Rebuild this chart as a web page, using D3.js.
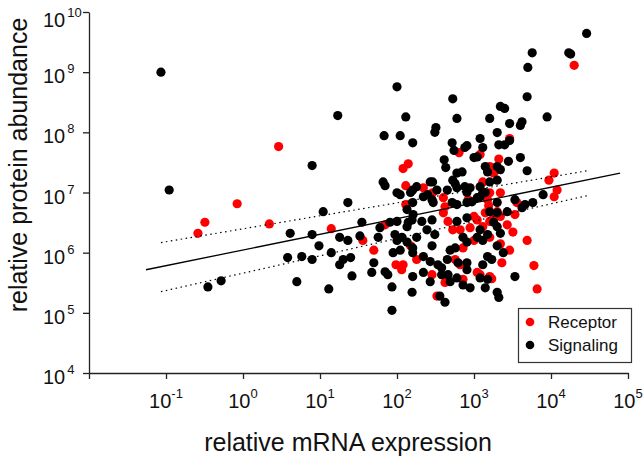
<!DOCTYPE html>
<html><head><meta charset="utf-8">
<script src="https://cdn.jsdelivr.net/npm/d3@7"></script>
<style>
body{margin:0;background:#fff}
svg{display:block}
text{font-family:"Liberation Sans",Arial,Helvetica,sans-serif;fill:#111}
</style>
</head><body>
<svg id="chart" width="643" height="458"></svg>
<script>
// ---- data ----
const xTicks = [1e-2, 1e-1, 1e0, 1e1, 1e2, 1e3, 1e4, 1e5];
const xTickExponents = ["", "-1", "0", "1", "2", "3", "4", "5"];
const yTicks = [1e4, 1e5, 1e6, 1e7, 1e8, 1e9, 1e10];
const yTickExponents = ["4", "5", "6", "7", "8", "9", "10"];
const seriesNames = ["Receptor", "Signaling"];
const seriesColors = ["#ff0000", "#000000"];

// [relative mRNA expression, relative protein abundance]
const receptor = [
[0.26,2.1e6],[0.32,3.2e6],[0.84,6.5e6],[2.2,3.0e6],[2.9,5.8e7],[14,2.5e6],[36,1.6e6],[50,1.1e6],[70,2.9e6],
[2.0e4,1.3e9],[2.9e3,7.9e7],[640,4.6e7],[1.2e3,4.3e7],[2.1e3,3.6e7],[140,3.0e7],[120,2.5e7],[1.6e3,2.7e7],
[1.8e3,2.1e7],[1.1e4,2.1e7],[9.4e3,1.6e7],[130,1.3e7],[1.2e4,1.1e7],[1.1e4,8.5e6],[3.2e3,2.2e6],[4.9e3,1.6e6],
[6.0e3,6.1e5],[6.6e3,2.5e5],[2.3e3,6.8e5],[1.7e3,3.7e5],[2.7e3,2.9e6],[220,1.2e7],[290,9.9e6],[1.3e3,1.5e7],
[1.6e3,9.9e6],[2.2e3,9.9e6],[130,6.3e6],[400,8.2e6],[420,5.8e6],[1.5e3,7.6e6],[1.55e3,6.0e6],[1.4e3,4.6e6],
[2.0e3,4.8e6],[2.2e3,4.0e6],[3.4e3,4.3e6],[3.6e3,6.8e6],[400,4.6e6],[460,3.3e6],[530,2.4e6],[660,2.4e6],
[890,2.6e6],[1.0e3,4.0e6],[1.1e3,3.5e6],[1.3e3,2.7e6],[1.6e3,3.3e6],[1.8e3,3.8e6],[1.6e3,1.8e6],[720,1.2e6],
[150,1.3e6],[180,7.7e5],[660,6.3e5],[97,6.3e5],[120,6.3e5],[115,5.2e5],[285,4.3e5],[720,3.6e5],[1.1e3,4.7e5],
[1.2e3,4.3e5],[1.6e3,4.0e5],[330,1.9e5],[420,3.2e5],[1.0e3,1.6e6],[840,7.6e6],[570,7.7e5],[2.2e3,1.4e6],[2.9e3,1.1e6]
];
const signaling = [
[0.086,1.0e9],[0.11,1.1e7],[0.35,2.7e5],[0.52,3.4e5],[3.8,8.3e5],[4.1,2.1e6],
[2.9e4,4.4e9],[5.7e3,2.1e9],[1.7e4,2.1e9],[1.8e4,2.0e9],[5.0e3,1.2e9],[100,5.7e8],[530,3.6e8],[4.9e3,3.9e8],
[17,1.9e8],[130,1.8e8],[600,1.7e8],[2.2e3,2.7e8],[2.5e3,2.5e8],[1.6e3,1.7e8],[8.9e3,1.8e8],[4.2e3,1.5e8],
[4.0e3,1.3e8],[2.9e3,1.4e8],[68,8.8e7],[110,8.8e7],[320,1.2e8],[310,1.0e8],[160,6.7e7],[1.2e3,7.9e7],
[2.0e3,9.9e7],[520,6.7e7],[810,6.0e7],[760,5.6e7],[1.3e3,5.6e7],[2.1e3,6.2e7],[2.5e3,6.2e7],[2.9e3,7.3e7],
[550,5.0e7],[1.0e3,3.8e7],[1.1e3,3.9e7],[4.0e3,3.8e7],[2.8e3,3.3e7],[410,3.5e7],[430,2.6e7],[7.9,2.8e7],
[700,2.2e7],[600,2.1e7],[1.4e3,2.7e7],[1.5e3,2.2e7],[2.0e3,2.7e7],[2.2e3,2.4e7],[4.9e3,2.3e7],[66,1.5e7],
[70,1.3e7],[270,1.5e7],[290,1.5e7],[530,1.6e7],[570,1.4e7],[2.0e3,1.6e7],[1.6e3,1.5e7],[180,1.25e7],
[160,1.1e7],[330,1.1e7],[450,1.1e7],[600,1.2e7],[760,1.25e7],[890,1.2e7],[810,1.0e7],[1.2e3,1.25e7],
[1.4e3,1.0e7],[2.0e3,6.8e6],[100,9.9e6],[110,9.2e6],[150,1.0e7],[160,6.8e6],[220,8.5e6],[250,9.2e6],
[285,7.6e6],[295,6.8e6],[520,6.8e6],[600,6.3e6],[810,6.8e6],[940,7.0e6],[1.1e3,8.2e6],[1.2e3,8.5e6],
[1.3e3,9.9e6],[1.6e3,4.8e6],[2.0e3,4.6e6],[2.7e3,4.8e6],[3.4e3,7.6e6],[4.2e3,5.6e6],[4.6e3,6.3e6],
[5.8e3,6.8e6],[7.9e3,9.2e6],[11,4.8e6],[23,6.8e6],[135,5.2e6],[157,3.5e6],[162,4.3e6],[135,2.7e6],
[140,3.2e6],[81,3.2e6],[100,3.3e6],[94,2.0e6],[100,1.6e6],[116,1.8e6],[135,1.5e6],[180,1.8e6],[210,3.3e6],
[245,2.4e6],[285,3.5e6],[310,2.0e6],[285,1.3e6],[600,3.3e6],[810,3.8e6],[1.2e3,2.4e6],[1.5e3,2.0e6],
[2.0e3,2.7e6],[2.2e3,2.1e6],[1.1e3,1.8e6],[1.3e3,1.6e6],[2.0e3,1.3e6],[2.4e3,1.0e6],[720,1.8e6],[810,1.5e6],
[490,1.1e6],[570,1.2e6],[160,1.2e6],[110,1.1e6],[89,1.0e6],[160,1.0e6],[220,8.6e5],[270,7.1e5],[340,6.3e5],
[380,5.6e5],[450,7.7e5],[620,6.8e5],[810,6.8e5],[160,4.0e5],[220,4.7e5],[270,3.3e5],[380,4.3e5],[460,4.3e5],
[600,3.8e5],[810,5.2e5],[1.3e3,6.3e5],[1.5e3,8.6e5],[1.7e3,7.7e5],[1.2e3,3.8e5],[1.5e3,3.6e5],[3.4e3,4.0e5],
[86,2.7e5],[157,2.2e5],[360,1.9e5],[420,1.5e5],[490,3.3e5],[720,2.9e5],[890,2.6e5],[2.0e3,2.2e5],[2.1e3,1.8e5],
[1.4e3,2.6e5],[86,1.1e5],[1.8e3,3.2e6],[7.9,2.0e6],[5.8,8.6e5],[7.9,7.7e5],[9.7,1.3e6],[14,1.0e6],[18,1.8e6],
[23,1.6e6],[33,1.9e6],[35,3.2e6],[18,6.3e5],[20,7.7e5],[25,8.3e5],[5.0,3.3e5],[13,2.5e5],[26,4.1e5],[47,4.7e5],
[50,6.8e5],[57,1.8e6],[60,2.6e6],[70,4.8e5],[76,4.3e5]
];

// regression fit and its band (end points)
const fitMRNA = [0.055, 7.9e4];
const fitProtein = [5.2e5, 2.1e7];
const bandMRNA = [0.086, 3.0e4];
const bandUpperProtein = [1.47e6, 2.3e7];
const bandLowerProtein = [2.25e5, 8.9e6];

// ---- drawing ----
const svg = d3.select("#chart");
const x = d3.scaleLog().domain([1e-2, 1e5]).range([89, 628]);
const y = d3.scaleLog().domain([1e4, 1e10]).range([373, 12]);
const axisColor = "#222";

// x axis
const gx = svg.append("g").attr("transform", "translate(0,373)")
  .call(d3.axisBottom(x).tickValues(xTicks).tickFormat("").tickSize(6).tickSizeOuter(0));
gx.selectAll("path,line").attr("stroke", axisColor).attr("stroke-width", 1.3);
xTicks.forEach((t, i) => {
  if (!xTickExponents[i]) return;
  const tx = svg.append("text").attr("x", x(t)).attr("y", 408)
    .attr("text-anchor", "middle").style("font-size", "20px");
  tx.append("tspan").text("10");
  tx.append("tspan").attr("dy", -10).style("font-size", "13px").text(xTickExponents[i]);
});

// y axis
const gy = svg.append("g").attr("transform", "translate(89,0)")
  .call(d3.axisLeft(y).tickValues(yTicks).tickFormat("").tickSize(6).tickSizeOuter(0));
gy.selectAll("path,line").attr("stroke", axisColor).attr("stroke-width", 1.3);
yTicks.forEach((t, i) => {
  const top = i === yTicks.length - 1 ? 4 : 0;
  const ty = svg.append("text").attr("x", 43).attr("y", y(t) + 11 + top)
    .attr("text-anchor", "start").style("font-size", "20px");
  ty.append("tspan").text("10");
  ty.append("tspan").attr("dx", 2).attr("dy", -10).style("font-size", "13px").text(yTickExponents[i]);
});

// axis titles
svg.append("text").attr("x", 348).attr("y", 451).attr("text-anchor", "middle")
  .style("font-size", "25px").text("relative mRNA expression");
svg.append("text").attr("transform", "translate(27,165) rotate(-90)").attr("text-anchor", "middle")
  .style("font-size", "25px").text("relative protein abundance");

// points
const r = 4.6;
svg.append("g").selectAll("circle").data(receptor).join("circle")
  .attr("cx", d => x(d[0])).attr("cy", d => y(d[1])).attr("r", r).attr("fill", seriesColors[0]);
svg.append("g").selectAll("circle").data(signaling).join("circle")
  .attr("cx", d => x(d[0])).attr("cy", d => y(d[1])).attr("r", r).attr("fill", seriesColors[1]);

// fit lines
const line = d3.line().x(d => x(d[0])).y(d => y(d[1]));
svg.append("path").datum(fitMRNA.map((m, i) => [m, fitProtein[i]])).attr("d", line)
  .attr("fill", "none").attr("stroke", "#000").attr("stroke-width", 1.3);
[bandUpperProtein, bandLowerProtein].forEach(b => {
  svg.append("path").datum(bandMRNA.map((m, i) => [m, b[i]])).attr("d", line)
    .attr("fill", "none").attr("stroke", "#000").attr("stroke-width", 1.2)
    .attr("stroke-dasharray", "1.5,3.5");
});

// legend
const lg = svg.append("g");
lg.append("rect").attr("x", 518.5).attr("y", 308.5).attr("width", 113).attr("height", 54)
  .attr("fill", "#fff").attr("stroke", "#333").attr("stroke-width", 1.2);
seriesNames.forEach((n, i) => {
  lg.append("circle").attr("cx", 530).attr("cy", 322 + i * 23).attr("r", 4.3).attr("fill", seriesColors[i]);
  lg.append("text").attr("x", 548).attr("y", 328 + i * 23).style("font-size", "17px").text(n);
});
</script>
</body></html>
